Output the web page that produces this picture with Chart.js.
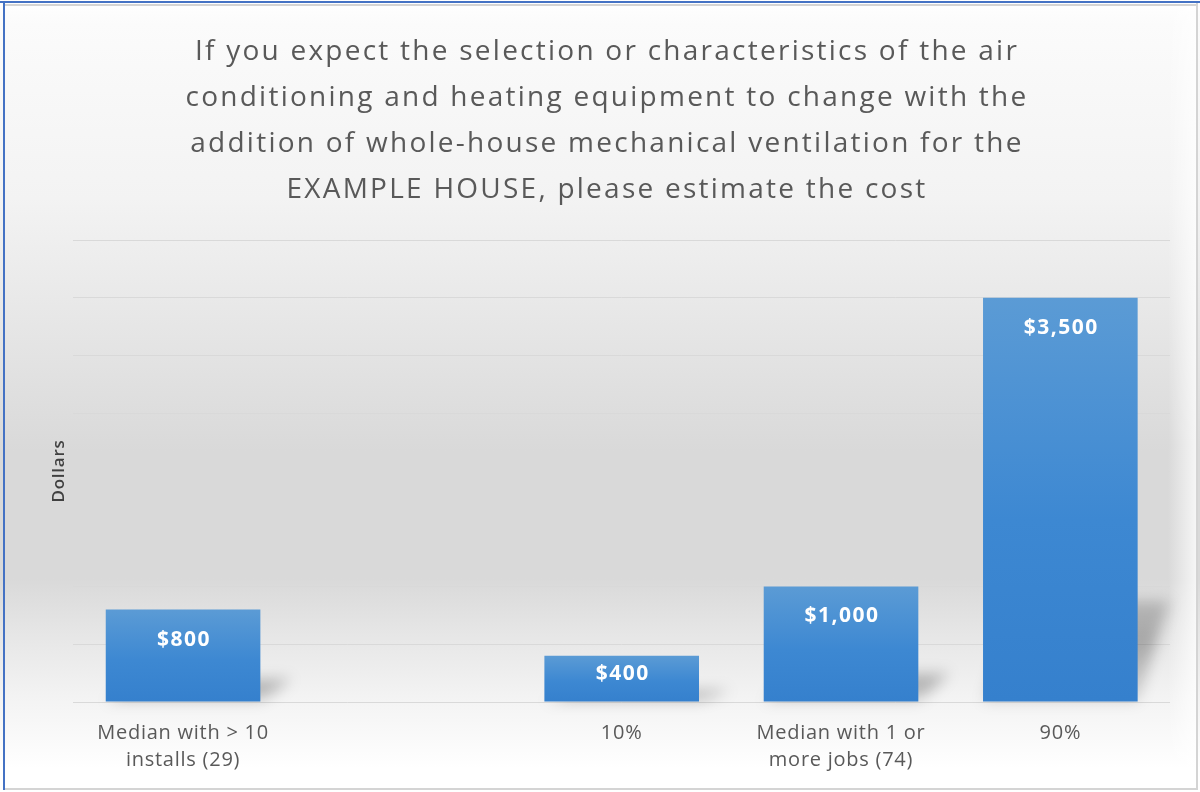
<!DOCTYPE html>
<html>
<head>
<meta charset="utf-8">
<script src="https://cdn.jsdelivr.net/npm/chart.js@4.4.1/dist/chart.umd.min.js"></script>
<style>
  html, body { margin: 0; padding: 0; background: #ffffff; }
  #wrap { width: 1200px; height: 792px; position: relative; }
</style>
</head>
<body>
<div id="wrap"><canvas id="chart"></canvas></div>
<script>
const titleLines = [
    'If you expect the selection or characteristics of the air',
    'conditioning and heating equipment to change with the',
    'addition of whole-house mechanical ventilation for the',
    'EXAMPLE HOUSE, please estimate the cost'
];
const categories = [
    ['Median with > 10', 'installs (29)'],
    '',
    '10%',
    ['Median with 1 or', 'more jobs (74)'],
    '90%'
];
const costs = [800, null, 400, 1000, 3500];
const yAxisTitle = 'Dollars';

const FONT = "'Open Sans', 'Noto Sans', sans-serif";

// page background, frame and the wrapped title (drawn here so it can be letter-spaced)
const backdrop = {
    id: 'backdrop',
    beforeDraw(chart) {
        const c = chart.ctx;
        const w = chart.width, h = chart.height;
        c.save();
        const g = c.createLinearGradient(0, 0, 0, h);
        g.addColorStop(0, '#ffffff');
        g.addColorStop(0.03, '#fbfbfb');
        g.addColorStop(0.25, '#f3f3f3');
        g.addColorStop(0.45, '#e3e3e3');
        g.addColorStop(0.57, '#d9d9d9');
        g.addColorStop(0.73, '#d9d9d9');
        g.addColorStop(0.8, '#e6e6e6');
        g.addColorStop(0.88, '#f3f3f3');
        g.addColorStop(0.97, '#ffffff');
        c.fillStyle = g;
        c.fillRect(0, 0, w, h);
        const side = c.createLinearGradient(1168, 0, 1196, 0);
        side.addColorStop(0, 'rgba(255,255,255,0)');
        side.addColorStop(1, 'rgba(255,255,255,0.75)');
        c.fillStyle = side;
        c.fillRect(1168, 0, 30, h);

        c.font = '28px ' + FONT;
        c.letterSpacing = '2.25px';
        c.fillStyle = '#595959';
        c.textAlign = 'center';
        c.textBaseline = 'middle';
        titleLines.forEach((line, i) => c.fillText(line, 607, 52.5 + i * 45.7));
        c.restore();
        // the remaining text (ticks, axis title) is a little wider in the original
        c.letterSpacing = '0.75px';
    },
    afterDraw(chart) {
        const c = chart.ctx;
        c.save();
        c.fillStyle = '#4472c4';
        c.fillRect(0, 1, chart.width, 2);
        c.fillRect(3, 1, 2, chart.height - 3);
        c.fillStyle = '#d4d4d4';
        c.fillRect(5, 4, chart.width - 8, 2);
        c.fillRect(1196, 3, 2, chart.height - 5);
        c.fillRect(5, 788, chart.width - 8, 2);
        c.restore();
    }
};

// perspective shadow behind each bar
const barShadow = {
    id: 'barShadow',
    beforeDatasetsDraw(chart) {
        const c = chart.ctx;
        const meta = chart.getDatasetMeta(0);
        c.save();
        c.filter = 'blur(7px)';
        meta.data.forEach((bar, i) => {
            if (costs[i] == null) return;
            const half = bar.width / 2;
            const hgt = bar.base - bar.y;
            const rise = hgt * 0.25;
            const g = c.createLinearGradient(0, bar.base - rise, 0, bar.base);
            g.addColorStop(0, 'rgba(0,0,0,0.18)');
            g.addColorStop(0.4, 'rgba(0,0,0,0.28)');
            g.addColorStop(1, 'rgba(0,0,0,0.12)');
            c.fillStyle = g;
            c.beginPath();
            c.moveTo(bar.x - half, bar.base);
            c.lineTo(bar.x + half, bar.base);
            c.lineTo(bar.x + half + 32, bar.base - rise);
            c.lineTo(bar.x - half + 32, bar.base - rise);
            c.closePath();
            c.fill();
        });
        c.restore();
    }
};

// value labels inside the top of each bar
const valueLabels = {
    id: 'valueLabels',
    afterDatasetsDraw(chart) {
        const c = chart.ctx;
        const meta = chart.getDatasetMeta(0);
        c.save();
        c.font = 'bold 21px ' + FONT;
        c.letterSpacing = '1.5px';
        c.fillStyle = '#ffffff';
        c.textAlign = 'center';
        c.textBaseline = 'middle';
        meta.data.forEach((bar, i) => {
            const v = costs[i];
            if (v == null) return;
            const y = Math.min(bar.y + 30, (bar.y + bar.base) / 2 - 5);
            c.fillText('$' + v.toLocaleString('en-US'), bar.x + 1, y);
        });
        c.restore();
    }
};

function barFill(ctx) {
    const chart = ctx.chart;
    const ys = chart.scales && chart.scales.y;
    const v = ctx.raw;
    if (!ys || v == null || ys.top === undefined) return '#4a8fd3';
    const top = ys.getPixelForValue(v);
    const bottom = ys.getPixelForValue(0);
    if (!isFinite(top) || !isFinite(bottom) || top === bottom) return '#4a8fd3';
    const g = chart.ctx.createLinearGradient(0, top, 0, bottom);
    g.addColorStop(0, '#5b9bd5');
    g.addColorStop(0.55, '#3d88d2');
    g.addColorStop(1, '#3580cd');
    return g;
}

new Chart(document.getElementById('chart'), {
    type: 'bar',
    data: {
        labels: categories,
        datasets: [{
            data: costs,
            backgroundColor: barFill,
            borderWidth: 0,
            barPercentage: 0.705,
            categoryPercentage: 1
        }]
    },
    options: {
        responsive: true,
        maintainAspectRatio: false,
        animation: false,
        layout: { padding: { top: 240, left: 49, right: 30, bottom: 0 } },
        plugins: {
            legend: { display: false },
            tooltip: { enabled: false },
            title: { display: false }
        },
        scales: {
            x: {
                grid: { display: false, drawTicks: false },
                border: { display: false },
                ticks: {
                    color: '#595959',
                    font: { family: FONT, size: 20, lineHeight: 1.35 },
                    padding: 18,
                    maxRotation: 0,
                    autoSkip: false
                }
            },
            y: {
                min: 0,
                max: 4000,
                ticks: { display: false, stepSize: 500 },
                grid: { color: '#d9d9d9', lineWidth: 1, drawTicks: false },
                border: { display: false },
                title: {
                    display: true,
                    text: yAxisTitle,
                    color: '#404040',
                    font: { family: FONT, size: 17, weight: '600' },
                    padding: { top: 0, bottom: 4 }
                }
            }
        }
    },
    plugins: [backdrop, barShadow, valueLabels]
});
</script>
</body>
</html>
